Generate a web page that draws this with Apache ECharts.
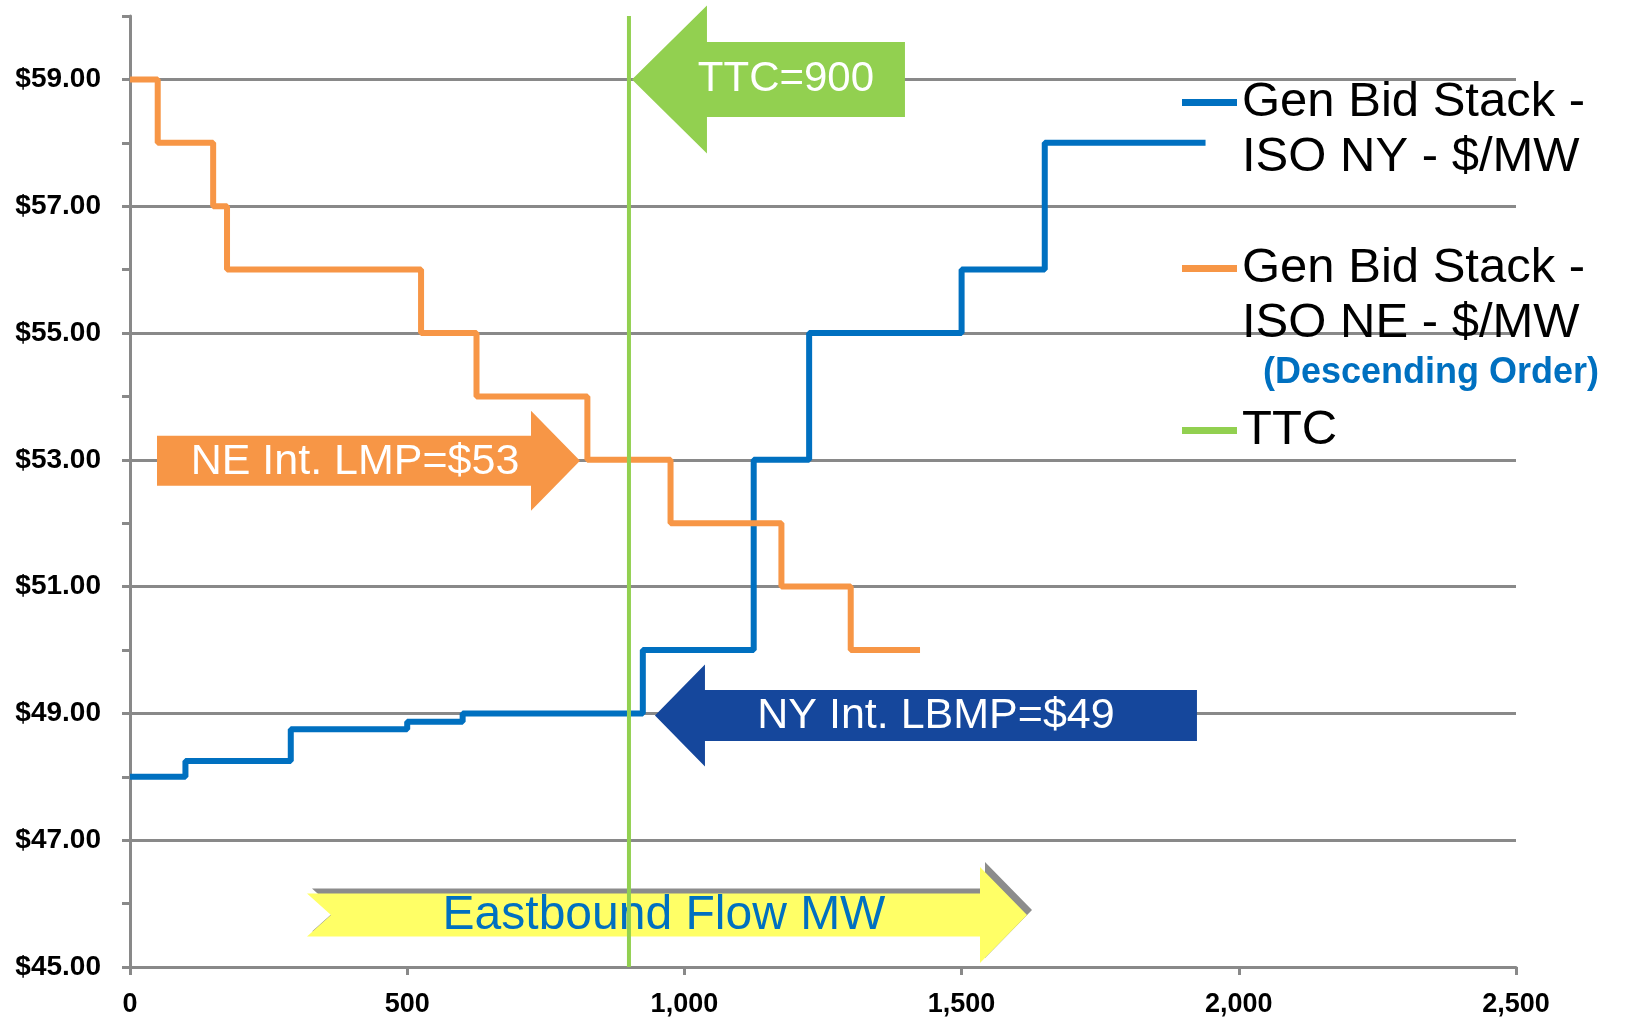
<!DOCTYPE html>
<html><head><meta charset="utf-8">
<script src="https://cdn.jsdelivr.net/npm/echarts@6/dist/echarts.min.js"></script>
<style>html,body{margin:0;padding:0;background:#fff}#c{width:1627px;height:1029px}</style>
</head><body><div id="c"></div>
<script>
// ---- data ----
const nyMW    = [0, 100, 290, 500, 600, 925, 1125, 1225, 1500, 1650, 1940];
const nyPrice = [48.0, 48.25, 48.75, 48.87, 49.0, 50, 53, 55, 56, 58, 58];
const neMW    = [0, 50, 150, 175, 525, 625, 825, 975, 1175, 1300, 1425];
const nePrice = [59, 58, 57, 56, 55, 54, 53, 52, 51, 50, 50];
const ttcMW = 900;
const ttcRange = [45, 60];
const neLMP = 53;
const nyLBMP = 49;
const flowPrice = 45.82;
const seriesNames = ['Gen Bid Stack -\nISO NY - $/MW', 'Gen Bid Stack -\nISO NE - $/MW', 'TTC'];
const annotationTexts = ['TTC=900', 'NE Int. LMP=$53', 'NY Int. LBMP=$49', 'Eastbound Flow MW', '(Descending Order)'];

const FONT = 'Liberation Sans, Arial, sans-serif';
const GRAY = '#898989';
const BLUE = '#0070C0', ORANGE = '#F79646', GREEN = '#92D050';

const legendCommon = {
  orient: 'vertical', padding: 0, itemWidth: 55, itemHeight: 7, icon: 'rect', itemGap: 0,
  textStyle: {fontFamily: FONT, fontSize: 49, color: '#000', lineHeight: 55},
  selectedMode: false
};

const option = {
  animation: false,
  backgroundColor: '#fff',
  grid: {left: 130, right: 111, top: 16, bottom: 62, containLabel: false},
  xAxis: {
    type: 'value', min: 0, max: 2500, interval: 500,
    axisLine: {show: true, lineStyle: {color: GRAY, width: 3}},
    axisTick: {show: true, length: 8, lineStyle: {color: GRAY, width: 3}},
    axisLabel: {fontFamily: FONT, fontWeight: 'bold', fontSize: 27, color: '#000', margin: 24,
      formatter: v => v.toLocaleString('en-US')},
    splitLine: {show: false}
  },
  yAxis: {
    type: 'value', min: 45, max: 60, interval: 1,
    axisLine: {show: true, lineStyle: {color: GRAY, width: 3}},
    axisTick: {show: true, length: 8, lineStyle: {color: GRAY, width: 3}},
    axisLabel: {fontFamily: FONT, fontWeight: 'bold', fontSize: 28, color: '#000', margin: 29,
      formatter: v => (Math.round(v) % 2 === 1) ? '$' + v.toFixed(2) : ''},
    splitLine: {show: true, lineStyle: {color: [GRAY, 'rgba(0,0,0,0)'], width: 3}}
  },
  legend: [
    Object.assign({}, legendCommon, {left: 1182, top: 20, data: [seriesNames[0]],
      formatter: n => '\n' + n}),
    Object.assign({}, legendCommon, {left: 1182, top: 186, data: [seriesNames[1]],
      formatter: n => '\n' + n}),
    Object.assign({}, legendCommon, {left: 1182, top: 403, data: [seriesNames[2]]})
  ],
  series: [
    {name: seriesNames[0], type: 'line', step: 'end', symbol: 'none', z: 3,
      lineStyle: {color: BLUE, width: 6}, itemStyle: {color: BLUE},
      data: nyMW.map((x, i) => [x, nyPrice[i]])},
    {name: seriesNames[1], type: 'line', step: 'end', symbol: 'none', z: 3,
      lineStyle: {color: ORANGE, width: 6}, itemStyle: {color: ORANGE},
      data: neMW.map((x, i) => [x, nePrice[i]])},
    {name: seriesNames[2], type: 'line', symbol: 'none', z: 4,
      lineStyle: {color: GREEN, width: 4}, itemStyle: {color: GREEN},
      data: ttcRange.map(p => [ttcMW, p])}
  ]
};

const chart = echarts.init(document.getElementById('c'));
chart.setOption(option);

const P = (x, y) => chart.convertToPixel({gridIndex: 0}, [x, y]);

function rightArrow(tail, tip, cy, bh, hh, hl, notch) {
  const b = tip - hl;
  const pts = [[tail, cy - bh], [b, cy - bh], [b, cy - hh], [tip, cy], [b, cy + hh], [b, cy + bh], [tail, cy + bh]];
  if (notch) pts.push([tail + notch, cy]);
  return pts;
}
function leftArrow(tip, tail, cy, bh, hh, hl) {
  const b = tip + hl;
  return [[tail, cy - bh], [b, cy - bh], [b, cy - hh], [tip, cy], [b, cy + hh], [b, cy + bh], [tail, cy + bh]];
}
function txt(x, y, s, size, color, weight) {
  return {type: 'text', z: 6, style: {text: s, x: x, y: y, fill: color, fontSize: size, fontFamily: FONT,
    fontWeight: weight || 'normal', align: 'center', verticalAlign: 'middle'}};
}

const g = [];
// TTC arrow
{
  const [tx, ty] = P(ttcMW, 59);
  const tip = tx + 3;
  g.push({type: 'polygon', z: 5, shape: {points: leftArrow(tip, tip + 273, ty, 37.5, 74, 75)}, style: {fill: GREEN}});
  g.push(txt(tip + 154, ty, annotationTexts[0], 42, '#fff'));
}
// NE arrow
{
  const [ox, oy] = P(0, neLMP);
  const tail = ox + 27, tip = tail + 423;
  g.push({type: 'polygon', z: 5, shape: {points: rightArrow(tail, tip, oy + 1, 25, 50, 49)}, style: {fill: ORANGE}});
  g.push(txt(tail + 198, oy + 2, annotationTexts[1], 43, '#fff'));
}
// NY arrow
{
  const [ox, oy] = P(ttcMW, nyLBMP);
  const tip = ox + 26, tail = tip + 542;
  g.push({type: 'polygon', z: 5, shape: {points: leftArrow(tip, tail, oy + 2, 25.5, 51, 50)}, style: {fill: '#15479C'}});
  g.push(txt(tip + 281, oy + 3, annotationTexts[2], 43, '#fff'));
}
// Eastbound flow arrow
{
  const [ox, oy] = P(0, flowPrice);
  const tail = ox + 177, tip = tail + 720;
  g.push({type: 'polygon', z: 1, shape: {points: rightArrow(tail + 5, tip + 5, oy - 5, 21.4, 48, 47, 24)}, style: {fill: '#8c8c8c'}});
  g.push({type: 'polygon', z: 1, shape: {points: rightArrow(tail, tip, oy, 21.4, 48, 47, 24)}, style: {fill: '#FFFF66'}});
  g.push(Object.assign(txt(tail + 357, oy + 1, annotationTexts[3], 48, BLUE), {z: 1}));
}
// Descending order note
g.push({type: 'text', z: 6, style: {text: annotationTexts[4], x: 1263, y: 373, fill: BLUE, fontSize: 36,
  fontFamily: FONT, fontWeight: 'bold', align: 'left', verticalAlign: 'middle'}});

chart.setOption({graphic: g});
</script>
</body></html>
